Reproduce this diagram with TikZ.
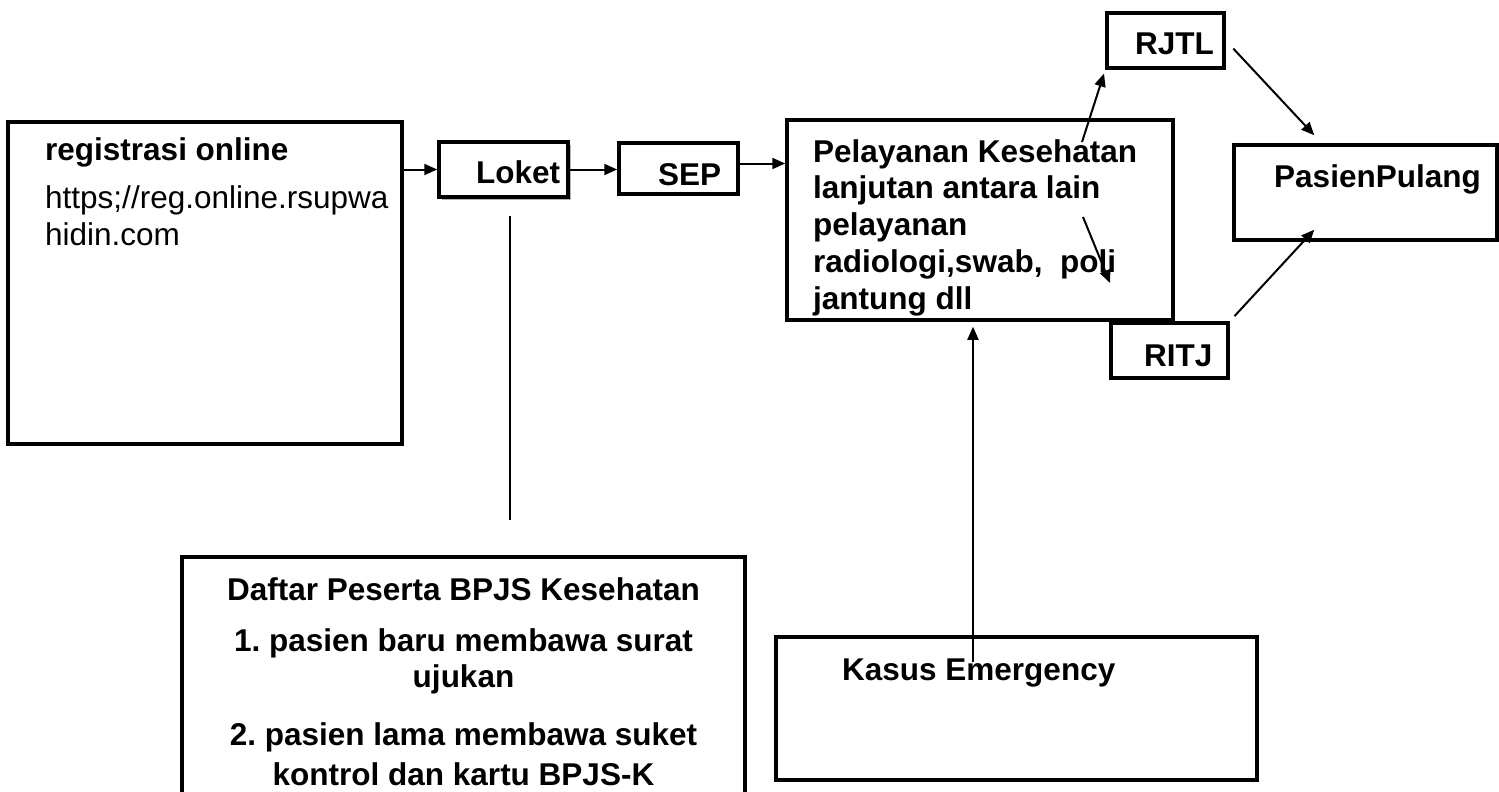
\documentclass[tikz,border=0pt]{standalone}
\usepackage{fontspec}
\setmainfont{Liberation Sans}
\usetikzlibrary{arrows.meta}
\usetikzlibrary{positioning}
\usetikzlibrary{shadows}
\usetikzlibrary{calc}

\begin{document}
\frenchspacing
\begin{tikzpicture}[x=1pt,y=-1pt,line join=miter,>={Triangle[length=13pt,width=11pt]},
  box/.style={draw,line width=3.5pt,inner sep=0pt},
  txt/.style={inner sep=0pt,font=\fontsize{31.5}{37}\selectfont\bfseries},
  txtreg/.style={inner sep=0pt,font=\fontsize{31.5}{37}\selectfont},
  arr/.style={->,line width=2pt}]
\useasboundingbox (0,0) rectangle (1499,792);
\clip (0,0) rectangle (1499,792);
% kotak
\node[box,minimum width=394,minimum height=322] (reg) at (205,283) {};
\node[box,fill=white,minimum width=129,minimum height=55,drop shadow={shadow xshift=3pt,shadow yshift=-3pt,fill=gray!60,opacity=1}] (loket) at (503.5,169.5) {};
\node[box,minimum width=119,minimum height=51] (sep) at (678.5,168.5) {};
\node[box,minimum width=386,minimum height=200] (pel) at (980,220) {};
\node[box,minimum width=117,minimum height=55] (rjtl) at (1165.5,40.5) {};
\node[box,minimum width=117,minimum height=55] (ritj) at (1169.5,350.5) {};
\node[box,minimum width=263,minimum height=95] (pulang) at (1365.5,192.5) {};
\node[box,minimum width=563,minimum height=248] (daftar) at (463.5,681) {};
\node[box,minimum width=481,minimum height=143] (emerg) at (1016.5,708.5) {};
% teks
\node[txt,anchor=base west] (regJudul) at (45,160) {registrasi online};
\node[txtreg,anchor=base west] (regUrl1) at (45,208) {https;//reg.online.rsupwa};
\node[txtreg,anchor=base west] (regUrl2) at (45,245) {hidin.com};
\node[txt,anchor=base west] (loketT) at (476,183) {Loket};
\node[txt,anchor=base west] (sepT) at (658,185) {SEP};
\foreach \t [count=\i] in {Pelayanan Kesehatan,lanjutan antara lain,pelayanan,{radiologi,swab,\ \ poli},jantung dll}
  \node[txt,anchor=base west] (pel\i) at (813,{162+36.8*(\i-1)}) {\t};
\node[txt,anchor=base west] (rjtlT) at (1135,55) {RJTL};
\node[txt,anchor=base west] (ritjT) at (1144,366) {RITJ};
\node[txt,anchor=base west] (pulangT) at (1274,187) {PasienPulang};
\foreach \t/\yy [count=\i] in {Daftar Peserta BPJS Kesehatan/600,1. pasien baru membawa surat/651,ujukan/687,2. pasien lama membawa suket/745,kontrol dan kartu BPJS-K/785}
  \node[txt,anchor=base] (daftar\i) at (463.5,\yy) {\t};
\node[txt,anchor=base west] (emergT) at (842,680) {Kasus Emergency};
% panah
\coordinate (sepOut) at ($(sep.east)+(0,-5)$);
\coordinate (keRJTL) at (1082,142);
\coordinate (keRITJa) at (1083,217);
\coordinate (keRITJb) at (1110,283);
\coordinate (pulAtas) at ($(pulang.north west)+(82,-8)$);
\coordinate (pulBawah) at ($(pulang.south west)+(82,-12)$);
\draw[arr] (reg.east |- loket.west) -- (loket.west);
\draw[arr] (loket.east) -- (loket.east -| sep.west);
\draw[arr] (sepOut) -- (sepOut -| pel.west);
\draw[arr,shorten >=4pt] (keRJTL) -- (rjtl.south west);
\draw[arr] (keRITJa) -- (keRITJb);
\draw[arr,shorten <=11pt] (rjtl.east) -- (pulAtas);
\draw[arr,shorten <=7pt] (ritj.north east) -- (pulBawah);
\draw[line width=2pt] ($(loket.south)+(6.5,17)$) -- ++(0,304);
\draw[arr,shorten >=5pt] ($(emerg.north)+(-43.5,27)$) -- ($(pel.south)+(-7,0)$);
\end{tikzpicture}
\end{document}
